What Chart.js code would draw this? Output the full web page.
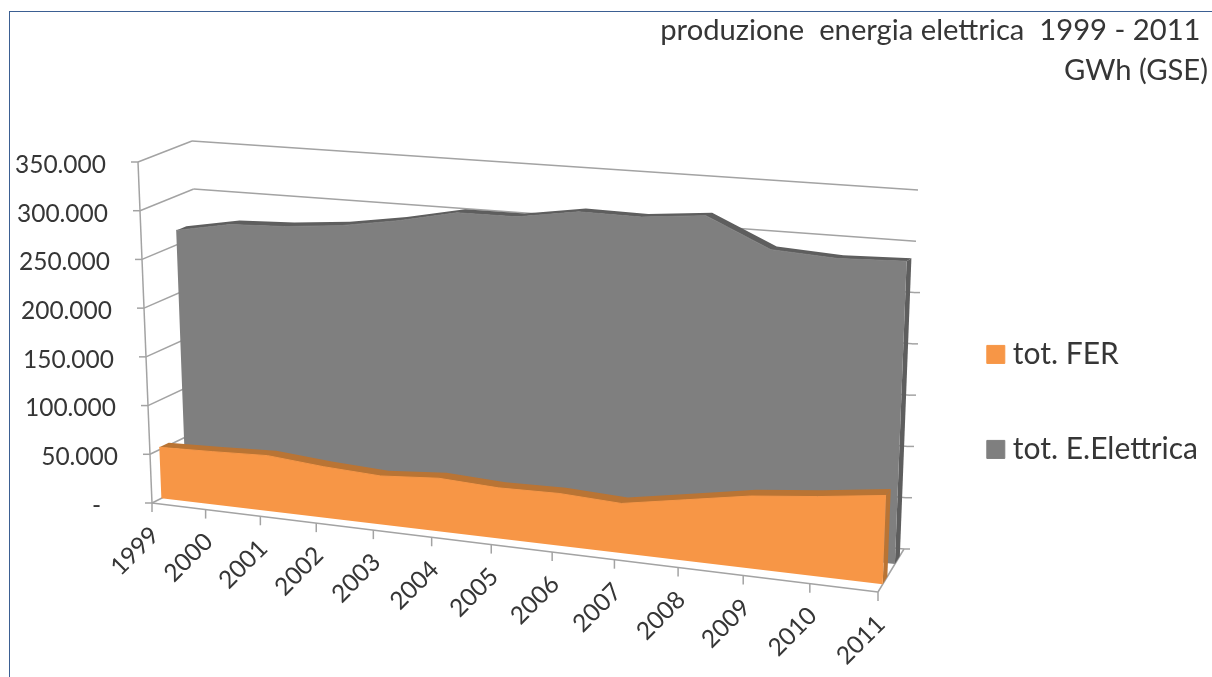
<!DOCTYPE html>
<html>
<head>
<meta charset="utf-8">
<title>produzione energia elettrica</title>
<script src="https://cdn.jsdelivr.net/npm/chart.js@4"></script>
<style>
  html, body { margin: 0; padding: 0; background: #fff; overflow: hidden; }
  #frame { position: absolute; left: 9px; top: 11px; width: 1203px; height: 666px;
           border-left: 1px solid #3b5f92; border-top: 1px solid #3b5f92; box-sizing: border-box; }
  #chart { position: absolute; left: 0; top: 0; }
</style>
</head>
<body>
<div id="frame"></div>
<canvas id="chart" width="1212" height="677"></canvas>
<script>
// values, GWh
const years = ["1999", "2000", "2001", "2002", "2003", "2004", "2005", "2006", "2007", "2008", "2009", "2010", "2011"];
const totFer = [52500, 54000, 56000, 51000, 48000, 52000, 49000, 50000, 47000, 57000, 67000, 73000, 80500];
const totElettrica = [265000, 275000, 277000, 282000, 291000, 303000, 303000, 312000, 311000, 316500, 288000, 284000, 286000];
const yMax = 350000;
const yStep = 50000;

// corners of the 3D box on screen (front = d 0, back = d 1)
const box = {
  frontBottomLeft: [152, 503], frontBottomRight: [878, 592],
  frontTopLeft: [138, 162], frontTopRight: [893, 200],
  backBottomLeft: [204, 477], backBottomRight: [904, 549],
  backTopLeft: [192, 141], backTopRight: [918, 190],
};
const perspective = 0.14;
const lineColor = "#a3a3a3";
const textColor = "#363636";

// depth of each ribbon inside the box, same order as the datasets
const ribbons = [
  { front: 0.18, back: 0.36, face: "#f79646", dark: "#b97434" },
  { front: 0.65, back: 0.84, face: "#7f7f7f", dark: "#5e5e5e" },
];

function mix(a, b, t) {
  return [a[0] + (b[0] - a[0]) * t, a[1] + (b[1] - a[1]) * t];
}

// u along the years, v up the value axis, d into the depth, all 0..1
function project(u, v, d) {
  const s = u / (1 + perspective * (1 - u));
  const front = mix(mix(box.frontBottomLeft, box.frontBottomRight, s), mix(box.frontTopLeft, box.frontTopRight, s), v);
  const back = mix(mix(box.backBottomLeft, box.backBottomRight, s), mix(box.backTopLeft, box.backTopRight, s), v);
  return mix(front, back, d);
}

function unitU(chart, i) {
  const x = chart.scales.x;
  return (x.getPixelForValue(i) - x.left) / x.width;
}

function unitV(chart, value) {
  const y = chart.scales.y;
  return (y.bottom - y.getPixelForValue(value)) / (y.bottom - y.top);
}

function polygon(ctx, pts, color) {
  ctx.fillStyle = color;
  ctx.beginPath();
  pts.forEach((p, i) => (i ? ctx.lineTo(p[0], p[1]) : ctx.moveTo(p[0], p[1])));
  ctx.closePath();
  ctx.fill();
}

function segment(ctx, a, b) {
  ctx.beginPath();
  ctx.moveTo(a[0], a[1]);
  ctx.lineTo(b[0], b[1]);
  ctx.stroke();
}

const box3d = {
  id: "box3d",
  // move the points the scales gave into the 3D box
  afterDatasetsUpdate(chart) {
    chart.data.datasets.forEach((ds, index) => {
      chart.getDatasetMeta(index).data.forEach((pt, i) => {
        const p = project(unitU(chart, i), unitV(chart, ds.data[i]), ribbons[index].front);
        pt.x = p[0];
        pt.y = p[1];
      });
    });
  },
  // walls, floor and axis labels
  beforeDatasetsDraw(chart) {
    const ctx = chart.ctx;
    ctx.save();
    ctx.strokeStyle = lineColor;
    ctx.lineWidth = 1.5;
    ctx.font = "24.5px Lato";
    ctx.fillStyle = textColor;

    segment(ctx, project(0, 0, 0), project(0, 1, 0));
    segment(ctx, project(0, 0, 0), project(1, 0, 0));
    segment(ctx, project(1, 0, 0), project(1, 0, 1));

    chart.scales.y.ticks.forEach((tick) => {
      const v = unitV(chart, tick.value);
      const a = project(0, v, 0);
      const b = project(0, v, 1);
      const c = project(1, v, 1);
      segment(ctx, [a[0] - 7, a[1]], a);
      segment(ctx, a, b);
      segment(ctx, b, c);
      // the two top lines stop at the wall corner
      if (v < 0.8) segment(ctx, c, [c[0] + 6, c[1]]);
      ctx.textAlign = "right";
      ctx.textBaseline = "middle";
      ctx.fillText(tick.label, a[0] - 32, a[1] + 3);
    });

    chart.scales.x.ticks.forEach((tick, i) => {
      const a = project(unitU(chart, i), 0, 0);
      segment(ctx, a, [a[0], a[1] + 9]);
      ctx.save();
      ctx.translate(a[0] + 3, a[1] + 28);
      ctx.rotate(-Math.PI / 4);
      ctx.textAlign = "right";
      ctx.textBaseline = "middle";
      ctx.fillText(tick.label, 0, 0);
      ctx.restore();
    });
    ctx.restore();
  },
  // faces of the ribbon, the library then strokes its top edge
  beforeDatasetDraw(chart, args) {
    const r = ribbons[args.index];
    const values = chart.data.datasets[args.index].data;
    const last = values.length - 1;
    const v = values.map((value) => unitV(chart, value));
    const u = values.map((value, i) => unitU(chart, i));
    const at = (d) => values.map((value, i) => project(u[i], v[i], d));
    const ctx = chart.ctx;
    polygon(ctx, [project(1, 0, r.front), project(1, v[last], r.front), project(1, v[last], r.back), project(1, 0, r.back)], r.dark);
    polygon(ctx, at(r.front).concat(at(r.back).reverse()), r.dark);
    polygon(ctx, at(r.front).concat([project(1, 0, r.front), project(0, 0, r.front)]), r.face);
  },
};

new Chart(document.getElementById("chart"), {
  type: "line",
  data: {
    labels: years,
    datasets: [
      { label: "tot. FER", data: totFer, backgroundColor: "#f79646", borderColor: "#f79646", borderWidth: 1, pointRadius: 0, pointStyle: "rect", fill: false, clip: false },
      { label: "tot. E.Elettrica", data: totElettrica, backgroundColor: "#7f7f7f", borderColor: "#7f7f7f", borderWidth: 1, pointRadius: 0, pointStyle: "rect", fill: false, clip: false },
    ],
  },
  options: {
    responsive: false,
    animation: false,
    events: [],
    layout: { padding: { top: 11, right: 4, left: 0, bottom: 0 } },
    scales: {
      x: { display: false },
      y: {
        display: false,
        min: 0,
        max: yMax,
        ticks: {
          stepSize: yStep,
          callback: (value) => (value === 0 ? "-   " : value / 1000 + ".000"),
        },
      },
    },
    plugins: {
      title: {
        display: true,
        align: "end",
        text: ["produzione  energia elettrica  1999 - 2011 ", "GWh (GSE)"],
        color: textColor,
        font: { family: "Lato", size: 29.2, weight: "normal", lineHeight: 1.35 },
        padding: { top: 0, bottom: 37 },
      },
      legend: {
        position: "right",
        align: "center",
        fullSize: false,
        labels: {
          usePointStyle: true,
          boxWidth: 4,
          boxHeight: 18,
          padding: 65,
          color: textColor,
          font: { family: "Lato", size: 30 },
        },
      },
      tooltip: { enabled: false },
    },
  },
  plugins: [box3d],
});
</script>
</body>
</html>
